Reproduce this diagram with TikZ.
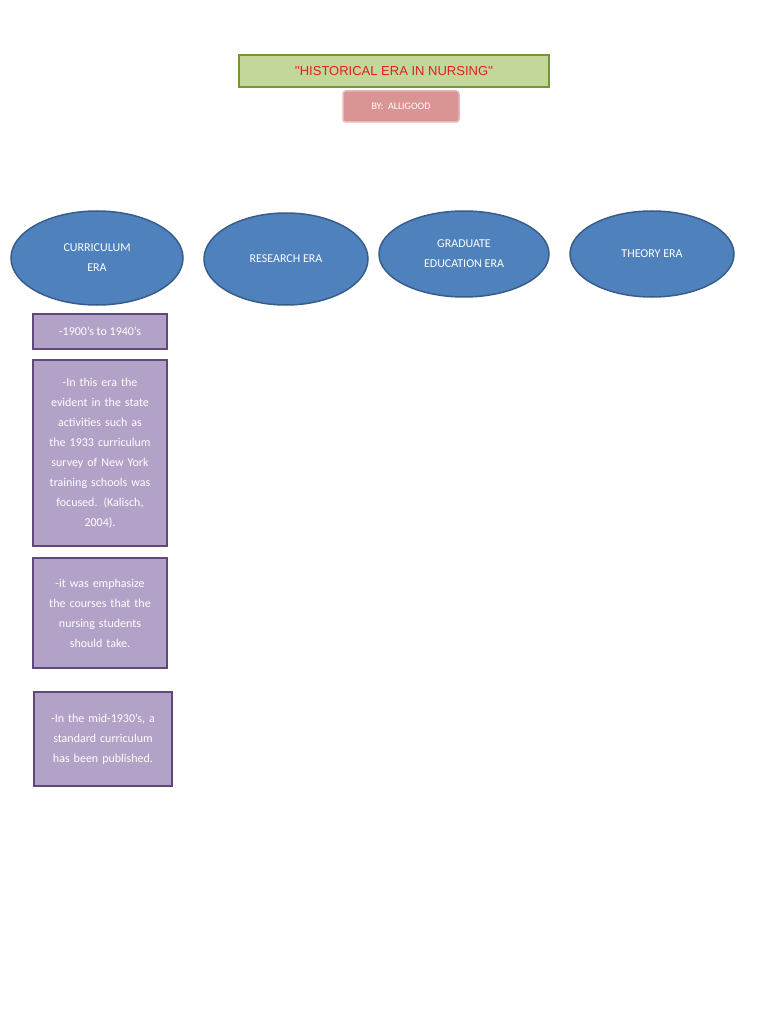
\documentclass[tikz,border=0pt]{standalone}
\usepackage{fontspec}
\setmainfont{Carlito}
\newfontfamily\arialf{Liberation Sans}
\usetikzlibrary{shapes.geometric}
\definecolor{tgreen}{HTML}{C4D79B}
\definecolor{tgreenb}{HTML}{77933C}
\definecolor{pinkf}{HTML}{D99594}
\definecolor{pinkb}{HTML}{E6B9B8}
\definecolor{bluef}{HTML}{4F81BD}
\definecolor{blueb}{HTML}{385D8A}
\definecolor{purf}{HTML}{B3A2C7}
\definecolor{purb}{HTML}{5F497A}
\definecolor{tred}{HTML}{E0201B}
\tikzset{
 era/.style={ellipse,draw=blueb,line width=1.5pt,fill=bluef,text=white,font=\fontsize{12}{20}\selectfont,align=center,inner sep=0pt},
 pbox/.style={draw=purb,line width=2pt,fill=purf,text=white,font=\fontsize{12}{20}\selectfont,align=center,inner sep=0pt},
}
\begin{document}
\begin{tikzpicture}[x=1pt,y=-1pt]
\useasboundingbox[fill=white] (0,0) rectangle (768,1024);
\node[draw=tgreenb,line width=2pt,fill=tgreen,minimum width=310pt,minimum height=32pt,text=tred,font=\arialf\fontsize{13}{15}\selectfont] (title) at (394,71) {''HISTORICAL ERA IN NURSING''};
\node[draw=pinkb,line width=1.5pt,fill=pinkf,rounded corners=3pt,minimum width=116pt,minimum height=31pt,text=white,font=\fontsize{10}{12}\selectfont] (by) at (401,106.5) {BY:\ \ ALLIGOOD};
\node[era,minimum width=172pt,minimum height=94pt] (e1) at (97,258) {CURRICULUM\\ERA};
\node[era,minimum width=164pt,minimum height=92pt] (e2) at (286,259) {RESEARCH ERA};
\node[era,minimum width=170pt,minimum height=86pt] (e3) at (464,254) {GRADUATE\\EDUCATION ERA};
\node[era,minimum width=164pt,minimum height=86pt] (e4) at (652,254) {THEORY ERA};
\node[pbox,minimum width=134pt,minimum height=35pt] (b1) at (100,331.5) {-1900's to 1940's};
\node[pbox,minimum width=134pt,minimum height=186pt,text width=126pt] (b2) at (100,453) {-In this era the\\evident in the state\\activities such as\\the 1933 curriculum\\survey of New York\\training schools was\\focused. (Kalisch,\\2004).};
\node[pbox,minimum width=134pt,minimum height=110pt,text width=126pt] (b3) at (100,613) {-it was emphasize\\the courses that the\\nursing students\\should take.};
\node[pbox,minimum width=138pt,minimum height=94pt,text width=130pt] (b4) at (103,739) {-In the mid-1930's, a\\standard curriculum\\has been published.};
\end{tikzpicture}
\end{document}
